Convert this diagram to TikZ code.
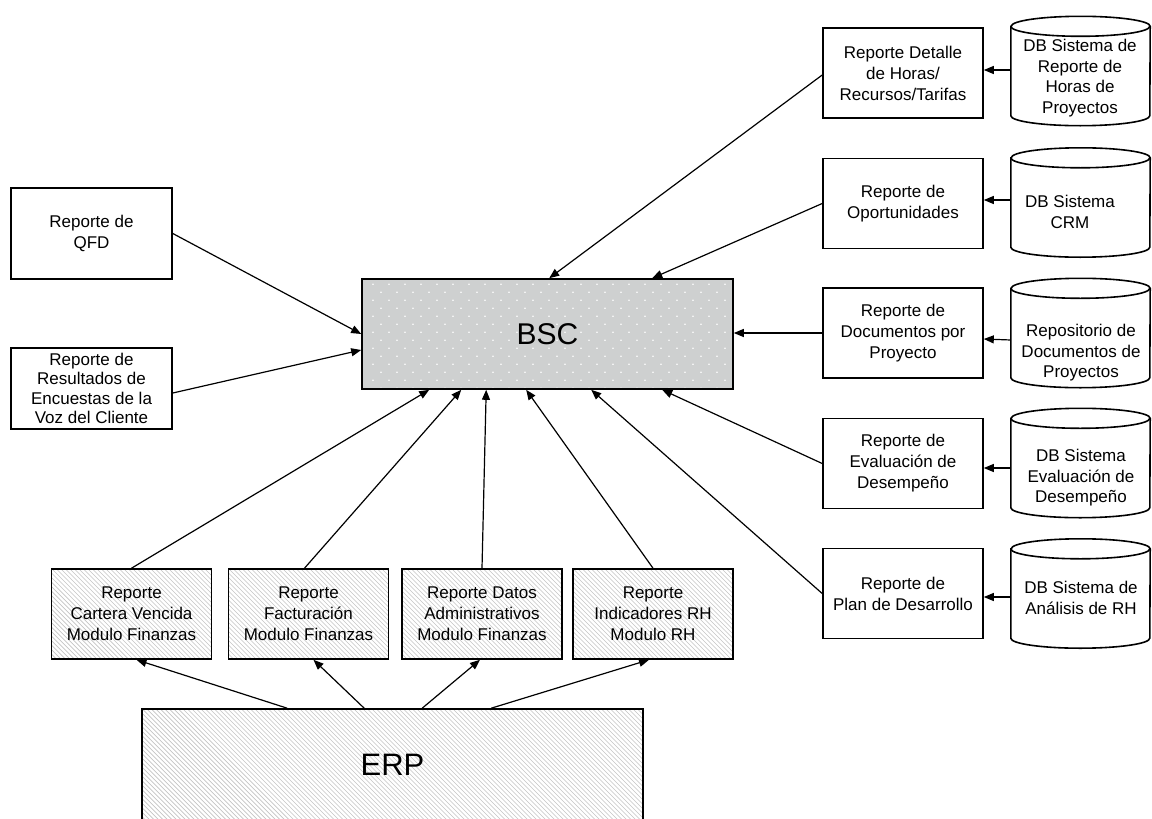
\documentclass[tikz,border=0pt]{standalone}
\usepackage{fontspec}
\setmainfont{Liberation Sans}
\usetikzlibrary{arrows.meta}
\definecolor{bscgray}{RGB}{206,208,208}
\definecolor{hatchgray}{RGB}{196,196,196}

% database cylinder drawn over the extent of a named (invisible) node
\newcommand\dbcylinder[1]{%
  \draw[line width=1.6pt, fill=white]
    ([yshift=-10pt]#1.north west) -- ([yshift=10pt]#1.south west)
    arc[start angle=180, end angle=0, x radius=69.5, y radius=10]
    -- ([yshift=-10pt]#1.north east)
    arc[start angle=0, end angle=-180, x radius=69.5, y radius=10] -- cycle;
  \draw[line width=1.6pt] ([yshift=-10pt]#1.north west)
    arc[start angle=180, end angle=0, x radius=69.5, y radius=10];}

\begin{document}
\begin{tikzpicture}[x=1pt,y=-1pt,
  box/.style={draw=black, line width=1.6pt, rectangle, align=center,
    font=\fontsize{17}{21}\selectfont, inner sep=0pt, fill=white},
  rep/.style={box, minimum width=160, minimum height=90},
  hatched/.style={path picture={
    \foreach \k in {-130,-125.5,...,520}
      \draw[hatchgray, line width=0.7pt]
        ([xshift=\k]path picture bounding box.north west) -- ++(140,140);
  }},
  dotfill/.style={fill=bscgray, path picture={
    \foreach \r in {0,...,13}{
      \pgfmathsetmacro\off{mod(\r,2)*8}
      \foreach \c in {0,...,23}
        \fill[white] ([shift={(11+16*\c+\off, 5.3+8*\r)}]path picture bounding box.north west) circle (0.85);
    }
  }},
  dbshape/.style={rectangle, minimum width=139, minimum height=109, inner sep=0pt},
  dbtext/.style={align=center, font=\fontsize{17}{20.5}\selectfont, inner sep=0pt},
  arr/.style={-{Triangle[length=10pt,width=8pt]}, line width=1.2pt}
]
\clip (0,0) rectangle (1152,819);
\fill[white] (0,0) rectangle (1152,819);

% central scorecard
\node[box, dotfill, minimum width=371, minimum height=110,
      font=\fontsize{30}{36}\selectfont] (bsc) at (547.5,334) {BSC};

% left-hand reports
\node[box, minimum width=161, minimum height=91] (qfd) at (91.5,233.5) {Reporte de\\QFD};
\node[box, minimum width=161, minimum height=81,
      font=\fontsize{17}{19.5}\selectfont] (voz) at (91.5,388.5)
  {Reporte de\\Resultados de\\Encuestas de la\\Voz del Cliente};

% right-hand reports
\node[rep] (r1) at (903,73)    {Reporte Detalle\\de Horas/\\Recursos/Tarifas};
\node[rep] (r2) at (903,203.5) {Reporte de\\Oportunidades};
\node[rep] (r3) at (903,333)   {Reporte de\\Documentos por\\Proyecto};
\node[rep] (r4) at (903,463.5) {Reporte de\\Evaluación de\\Desempeño};
\node[rep] (r5) at (903,593.5) {Reporte de\\Plan de Desarrollo};

% source databases
\node[dbshape] (d1) at (1080.5,71)    {};
\node[dbshape] (d2) at (1080.5,202.5) {};
\node[dbshape] (d3) at (1080.5,333)   {};
\node[dbshape] (d4) at (1080.5,463)   {};
\node[dbshape] (d5) at (1080.5,593.5) {};
\dbcylinder{d1}\dbcylinder{d2}\dbcylinder{d3}\dbcylinder{d4}\dbcylinder{d5}
\node[dbtext] (d1t) at (1080,78)  {DB Sistema de\\Reporte de\\Horas de\\Proyectos};
\node[dbtext] (d2t) at (1070,212) {DB Sistema\\CRM};
\node[dbtext] (d3t) at (1081,353) {Repositorio de\\Documentos de\\Proyectos};
\node[dbtext] (d4t) at (1081,478) {DB Sistema\\Evaluación de\\Desempeño};
\node[dbtext] (d5t) at (1081,598) {DB Sistema de\\Análisis de RH};

% ERP module reports
\node[rep, hatched] (b1) at (131.5,614) {Reporte\\Cartera Vencida\\Modulo Finanzas};
\node[rep, hatched] (b2) at (308.5,614) {Reporte\\Facturación\\Modulo Finanzas};
\node[rep, hatched] (b3) at (482,614)   {Reporte Datos\\Administrativos\\Modulo Finanzas};
\node[rep, hatched] (b4) at (653,614)   {Reporte\\Indicadores RH\\Modulo RH};

% ERP
\node[box, hatched, minimum width=501, minimum height=112,
      font=\fontsize{31}{36}\selectfont] (erp) at (392.5,765) {ERP};

% feeds into the scorecard
\draw[arr] (qfd.east) -- (bsc.west);
\draw[arr] ([yshift=-4.5]voz.east) -- ([yshift=-16]bsc.west);
\draw[arr] ([yshift=-2]r1.west) -- ([xshift=188]bsc.north west);
\draw[arr] (r2.west) -- ([xshift=291]bsc.north west);
\draw[arr] (r3.west) -- (r3.west -| bsc.east);
\draw[arr] (r4.west) -- ([xshift=301]bsc.south west);
\draw[arr] (r5.west) -- ([xshift=230]bsc.south west);
\draw[arr] (b1.north) -- ([xshift=68]bsc.south west);
\draw[arr] ([xshift=-4]b2.north) -- ([xshift=100]bsc.south west);
\draw[arr] (b3.north) -- ([xshift=125]bsc.south west);
\draw[arr] (b4.north) -- ([xshift=165]bsc.south west);

% ERP feeds its reports
\draw[arr] ([xshift=146]erp.north west) -- ([xshift=5]b1.south);
\draw[arr] ([xshift=223]erp.north west) -- ([xshift=5]b2.south);
\draw[arr] ([xshift=281]erp.north west) -- ([xshift=-2]b3.south);
\draw[arr] ([xshift=350]erp.north west) -- ([xshift=-4]b4.south);

% databases feed the right-hand reports
\draw[arr] ([yshift=1]d1.west)   -- ([yshift=3]r1.east);
\draw[arr] ([yshift=2.5]d2.west) -- ([yshift=3.5]r2.east);
\draw[arr] ([yshift=-7]d3.west)  -- ([yshift=-6]r3.east);
\draw[arr] ([yshift=-5]d4.west)  -- ([yshift=-4.5]r4.east);
\draw[arr] ([yshift=-3.5]d5.west) -- ([yshift=-3.5]r5.east);
\end{tikzpicture}
\end{document}
